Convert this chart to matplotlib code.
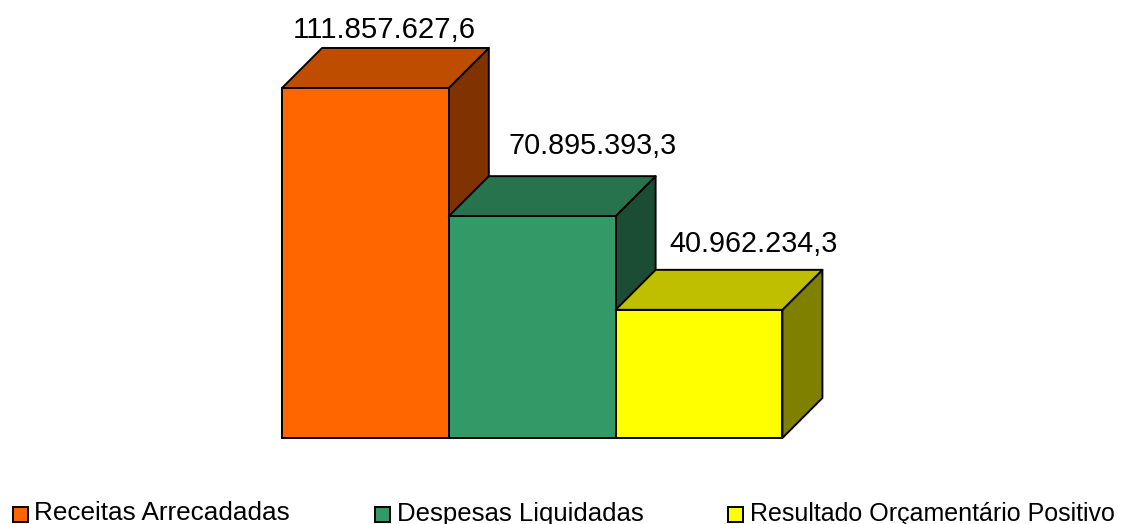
import matplotlib
matplotlib.use("Agg")
from matplotlib import pyplot as plt
from matplotlib.patches import Polygon, Rectangle

categories = ['Receitas Arrecadadas', 'Despesas Liquidadas', 'Resultado Orçamentário Positivo']
values = [111857627.6, 70895393.3, 40962234.3]
value_labels = ['111.857.627,6', '70.895.393,3', '40.962.234,3']
front_colors = ['#FF6600', '#339966', '#FFFF00']
top_colors = ['#BF4D00', '#26734D', '#BFBF00']
side_colors = ['#803300', '#1A4D33', '#808000']

W, H = 1132, 524
bar_px = 166.8
unit_px = 350.0 / values[0]
x0_px, y0_px = 282, 438
depth_px = 40


def main():
    plt.rcParams['font.family'] = ['Liberation Sans', 'DejaVu Sans']
    fig = plt.figure(figsize=(W / 100, H / 100), dpi=100)
    ax = fig.add_axes([0, 0, 1, 1])
    ax.set_xlim(-x0_px / bar_px, (W - x0_px) / bar_px)
    ax.set_ylim(-(H - y0_px) / unit_px, y0_px / unit_px)
    ax.axis('off')

    dx = depth_px / bar_px
    dy = depth_px / unit_px
    # label offsets from the bar's back top centre, in pixels
    label_off_x = [-1, 40, 35]
    label_off_y = [18, 30, 26]
    label_size = [21.2, 20.7, 20.7]
    for i, v in enumerate(values):
        ax.add_patch(Polygon([(i + 1, 0), (i + 1 + dx, dy), (i + 1 + dx, v + dy), (i + 1, v)],
                             fc=side_colors[i], ec='black', lw=1.4, joinstyle='round', zorder=2 + i))
        ax.add_patch(Polygon([(i, v), (i + dx, v + dy), (i + 1 + dx, v + dy), (i + 1, v)],
                             fc=top_colors[i], ec='black', lw=1.4, joinstyle='round', zorder=2 + i))
        ax.add_patch(Rectangle((i, 0), 1, v, fc=front_colors[i], ec='black', lw=1.4, zorder=2 + i))
        ax.text(i + 0.5 + dx / 2 + label_off_x[i] / bar_px, v + dy + label_off_y[i] / unit_px,
                value_labels[i], ha='center', va='center', fontsize=label_size[i],
                color='black', zorder=10)

    # legend sits in figure pixels
    legend_x = [12.5, 374.5, 728]
    text_x = [34, 397, 750]
    legend_size = [18.8, 18.5, 18.0]
    legend_y = 514.5
    for x, tx, fs, name, c in zip(legend_x, text_x, legend_size, categories, front_colors):
        fig.add_artist(Rectangle((x / W, 1 - (legend_y + 7.5) / H), 15 / W, 15 / H,
                                 transform=fig.transFigure, fc=c, ec='black', lw=1.4))
        fig.text(tx / W, 1 - 520.5 / H, name, ha='left', va='baseline',
                 fontsize=fs, color='black')

    fig.savefig('out.png', dpi=100)


main()
